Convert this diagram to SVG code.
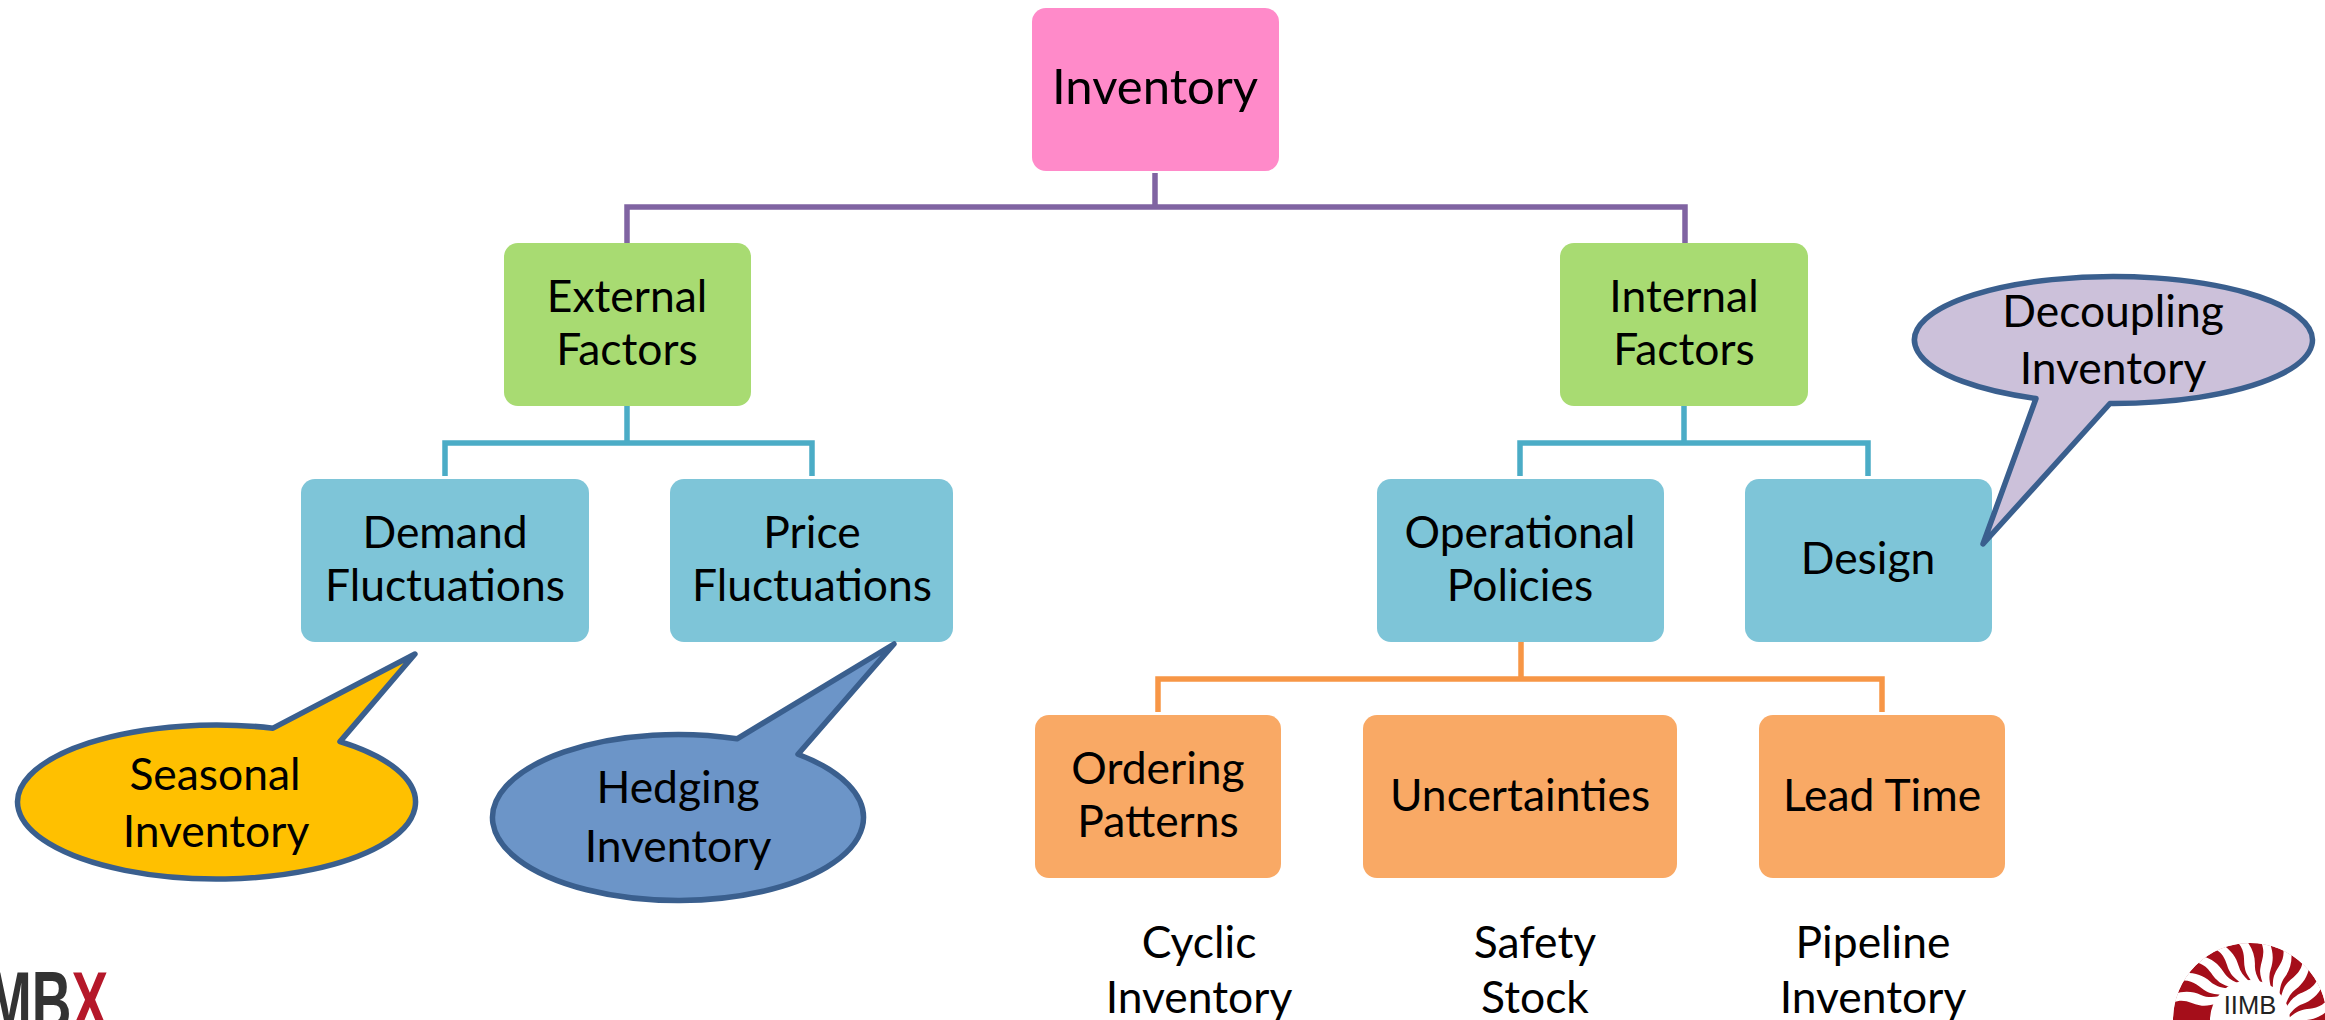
<svg xmlns="http://www.w3.org/2000/svg" width="2325" height="1020" viewBox="0 0 2325 1020">
<style>
text{font-family:Lato,"Open Sans",sans-serif;font-size:44.4px;fill:#000;text-anchor:middle}
.big{font-size:49px}
.pink{fill:#FF8AC9}.green{fill:#A8DB72}.blue{fill:#7EC5D8}.orange{fill:#F9A965}
.call{stroke:#3A5F8E;stroke-width:5.5;stroke-linejoin:round}
.conn{fill:none;stroke-width:5.5}
</style>
<defs>
<path id="st" d="M-17-79C-6-70-9-60-7-52C-6-46-2-42 2-36L9-38C5-44 3-49 3-55C3-64 0-72-7-80Z" fill="#fff"/>
<clipPath id="lg"><path d="M2173 1020A77 77 0 0 1 2327 1020Z"/></clipPath>
</defs>
<g id="connectors">
<path class="conn" stroke="#8064A2" d="M1155 173V207M627 243V207H1685V243"/>
<path class="conn" stroke="#4BACC6" d="M627 406V443M445 476V443H812V476"/>
<path class="conn" stroke="#4BACC6" d="M1684 406V443M1520 476V443H1868V476"/>
<path class="conn" stroke="#F79646" d="M1521 642V679M1158 712V679H1882V712"/>
</g>
<g id="inventory"><rect class="pink" x="1032" y="8" width="247" height="163" rx="14"/><text class="big" x="1155" y="104">Inventory</text></g>
<g id="external"><rect class="green" x="504" y="243" width="247" height="163" rx="14"/><text x="627" y="312">External</text><text x="627" y="365">Factors</text></g>
<g id="internal"><rect class="green" x="1560" y="243" width="248" height="163" rx="14"/><text x="1684" y="312">Internal</text><text x="1684" y="365">Factors</text></g>
<g id="demand"><rect class="blue" x="301" y="479" width="288" height="163" rx="14"/><text x="445" y="548">Demand</text><text x="445" y="601">Fluctuations</text></g>
<g id="price"><rect class="blue" x="670" y="479" width="283" height="163" rx="14"/><text x="812" y="548">Price</text><text x="812" y="601">Fluctuations</text></g>
<g id="operational"><rect class="blue" x="1377" y="479" width="287" height="163" rx="14"/><text x="1520" y="548">Operational</text><text x="1520" y="601">Policies</text></g>
<g id="design"><rect class="blue" x="1745" y="479" width="247" height="163" rx="14"/><text x="1868" y="574">Design</text></g>
<g id="ordering"><rect class="orange" x="1035" y="715" width="246" height="163" rx="14"/><text x="1158" y="784">Ordering</text><text x="1158" y="837">Patterns</text></g>
<g id="uncertainties"><rect class="orange" x="1363" y="715" width="314" height="163" rx="14"/><text x="1520" y="811">Uncertainties</text></g>
<g id="leadtime"><rect class="orange" x="1759" y="715" width="246" height="163" rx="14"/><text x="1882" y="811">Lead Time</text></g>
<g id="seasonal"><path class="call" fill="#FFC000" d="M273 728.17L415 654L340 741.62A199 77 0 1 1 273 728.17Z"/><text x="215" y="790">Seasonal</text><text x="216" y="847">Inventory</text></g>
<g id="hedging"><path class="call" fill="#6C95C8" d="M737 738.81L894 644L798 754.21A185.5 83 0 1 1 737 738.81Z"/><text x="678" y="803">Hedging</text><text x="678" y="862">Inventory</text></g>
<g id="decoupling"><path class="call" fill="#CCC1DA" d="M2036 398.49L1983 544L2110 403.49A199 63.5 0 1 0 2036 398.49Z"/><text x="2113" y="327">Decoupling</text><text x="2113" y="384">Inventory</text></g>
<g id="cyclic"><text x="1199" y="958">Cyclic</text><text x="1199" y="1013">Inventory</text></g>
<g id="safety"><text x="1535" y="958">Safety</text><text x="1535" y="1013">Stock</text></g>
<g id="pipeline"><text x="1873" y="958">Pipeline</text><text x="1873" y="1013">Inventory</text></g>
<g id="logo-mbx"><text transform="translate(-14 1030) scale(.655 1)" style="font-family:'Liberation Sans',sans-serif;font-weight:700;font-size:84px;text-anchor:start;fill:#333">MB<tspan fill="#B5182A">X</tspan></text></g>
<g id="logo-iimb">
<g clip-path="url(#lg)">
<path fill="#A50E1A" d="M2173 1020A77 77 0 0 1 2327 1020H2290A40 40 0 0 0 2210 1020Z"/>
<use href="#st" transform="translate(2250 1020) rotate(-66)"/><use href="#st" transform="translate(2250 1020) rotate(-49)"/><use href="#st" transform="translate(2250 1020) rotate(-32)"/><use href="#st" transform="translate(2250 1020) rotate(-15)"/><use href="#st" transform="translate(2250 1020) rotate(2)"/><use href="#st" transform="translate(2250 1020) rotate(19)"/><use href="#st" transform="translate(2250 1020) rotate(36)"/><use href="#st" transform="translate(2250 1020) rotate(53)"/><use href="#st" transform="translate(2250 1020) rotate(70)"/><use href="#st" transform="translate(2250 1020) rotate(87)"/>
</g>
<text x="2250" y="1014" style="font-family:'Liberation Sans',sans-serif;font-size:25.5px;fill:#222">IIMB</text>
</g>
</svg>
